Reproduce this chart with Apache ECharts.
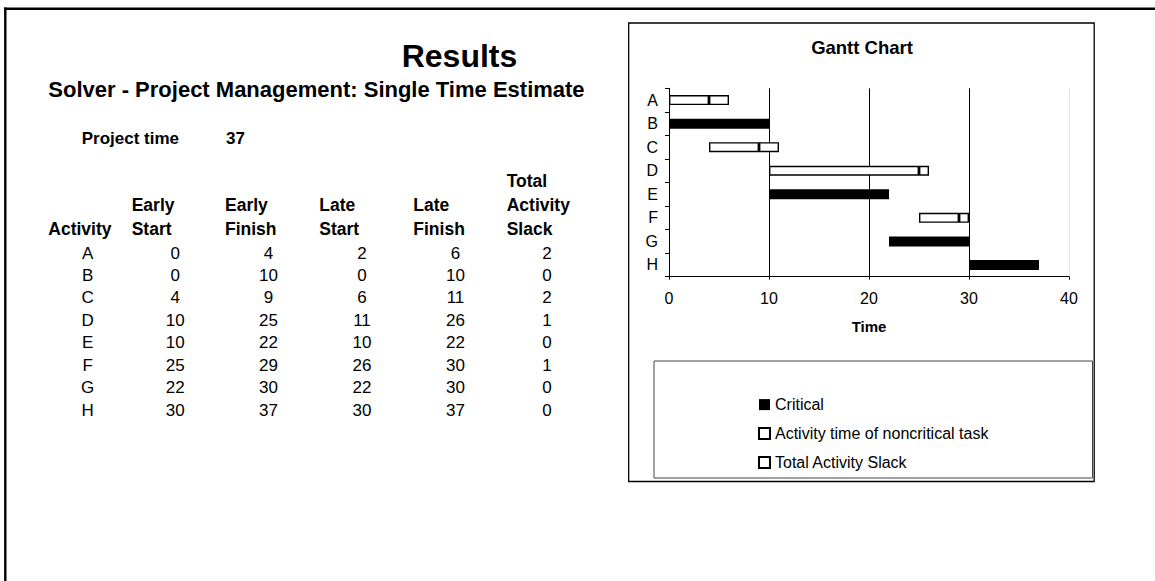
<!DOCTYPE html>
<html>
<head>
<meta charset="utf-8">
<script src="https://cdn.jsdelivr.net/npm/echarts@6/dist/echarts.min.js"></script>
<style>
html,body{margin:0;padding:0;background:#fff;}
#main{width:1155px;height:581px;}
</style>
</head>
<body>
<div id="main"></div>
<script>
// ---- data ----
const activities = ['A', 'B', 'C', 'D', 'E', 'F', 'G', 'H'];
const earlyStart = [0, 0, 4, 10, 10, 25, 22, 30];
const earlyFinish = [4, 10, 9, 25, 22, 29, 30, 37];
const lateStart = [2, 0, 6, 11, 10, 26, 22, 30];
const lateFinish = [6, 10, 11, 26, 22, 30, 30, 37];
const totalSlack = [2, 0, 2, 1, 0, 1, 0, 0];
const projectTime = 37;
const headerRows = [
  ['', '', '', '', '', 'Total'],
  ['', 'Early', 'Early', 'Late', 'Late', 'Activity'],
  ['Activity', 'Start', 'Finish', 'Start', 'Finish', 'Slack']
];
const legendNames = ['Critical', 'Activity time of noncritical task', 'Total Activity Slack'];

// ---- derived series for the Gantt (from the table values) ----
const duration = activities.map((_, i) => earlyFinish[i] - earlyStart[i]);
const criticalData = activities.map((_, i) => totalSlack[i] === 0 ? duration[i] : '-');
const nonCriticalData = activities.map((_, i) => totalSlack[i] > 0 ? duration[i] : '-');
const slackData = activities.map((_, i) => totalSlack[i] > 0 ? totalSlack[i] : '-');

const FF = '"Liberation Sans", Arial, sans-serif';
const chart = echarts.init(document.getElementById('main'), null, { renderer: 'svg' });

// ---- table graphics ----
const graphics = [];
function txt(text, x, y, size, bold, align) {
  graphics.push({
    type: 'text', silent: true,
    style: {
      text: String(text), x: x, y: y, fill: '#000',
      font: (bold ? 'bold ' : '') + size + 'px ' + FF,
      align: align || 'left', verticalAlign: 'middle'
    }
  });
}
// frame lines
graphics.push({ type: 'line', silent: true, shape: { x1: 4, y1: 8.8, x2: 1155, y2: 8.8 }, style: { stroke: '#000', lineWidth: 2.4 } });
graphics.push({ type: 'line', silent: true, shape: { x1: 5.3, y1: 7.6, x2: 5.3, y2: 581 }, style: { stroke: '#000', lineWidth: 2.4 } });
// gantt chart box
graphics.push({ type: 'rect', silent: true, z: -1, shape: { x: 628.7, y: 23, width: 465.5, height: 458.5 }, style: { fill: 'none', stroke: '#000', lineWidth: 1.3 } });
// legend box
graphics.push({ type: 'rect', silent: true, z: -1, shape: { x: 654, y: 361, width: 438.5, height: 117 }, style: { fill: 'none', stroke: '#444', lineWidth: 1 } });

txt('Results', 401.7, 56, 32, true);
txt('Solver - Project Management: Single Time Estimate', 48.3, 89.5, 22, true);
txt('Project time', 81.7, 138, 17, true);
txt(projectTime, 226, 138, 17, true);

const headerX = [48.3, 131.7, 225, 319.3, 413.3, 506.7];
const headerY = [181, 205.3, 228.7];
headerRows.forEach((row, r) => {
  row.forEach((h, c) => { if (h) txt(h, headerX[c], headerY[r], 17.5, true); });
});
const colCenters = [87.7, 175.3, 268.5, 362, 455.5, 547];
const cols = [activities, earlyStart, earlyFinish, lateStart, lateFinish, totalSlack];
activities.forEach((_, i) => {
  const y = 253 + i * 22.45;
  cols.forEach((col, c) => txt(col[i], colCenters[c], y, 17, false, 'center'));
});

const hollow = { color: '#fff', borderColor: '#000', borderWidth: 1.4 };

chart.setOption({
  animation: false,
  backgroundColor: '#fff',
  textStyle: { fontFamily: FF },
  title: {
    text: 'Gantt Chart', left: 862, top: 37, textAlign: 'center', padding: 0,
    textStyle: { fontSize: 18.5, fontWeight: 'bold', color: '#000', fontFamily: FF, lineHeight: 20 }
  },
  legend: {
    data: legendNames, orient: 'vertical', left: 758, top: 396.6, padding: 0,
    itemWidth: 11, itemHeight: 11, itemGap: 13, icon: 'rect',
    textStyle: { fontSize: 16, lineHeight: 16, color: '#000', fontFamily: FF },
    selectedMode: false
  },
  grid: { left: 669, top: 88.3, width: 400, height: 188.4, containLabel: false },
  xAxis: {
    type: 'value', min: 0, max: 40, interval: 10,
    name: 'Time', nameLocation: 'middle', nameGap: 42.5,
    nameTextStyle: { fontSize: 15, fontWeight: 'bold', color: '#000', lineHeight: 15, fontFamily: FF },
    axisLine: { show: true, lineStyle: { color: '#000', width: 1 } },
    axisTick: { show: true, length: 3, lineStyle: { color: '#000' } },
    axisLabel: { fontSize: 16, color: '#000', margin: 14, lineHeight: 16, fontFamily: FF },
    splitLine: { show: true, lineStyle: { color: ['#000', '#000', '#000', '#000', '#e6e6e6'], width: 1 } }
  },
  yAxis: {
    type: 'category', data: activities, inverse: true,
    axisLine: { show: true, lineStyle: { color: '#000', width: 1 } },
    axisTick: { show: true, length: 4, lineStyle: { color: '#000' } },
    axisLabel: { fontSize: 16, color: '#000', margin: 11, fontFamily: FF },
    splitLine: { show: false }
  },
  series: [
    { name: 'base', type: 'bar', stack: 'g', data: earlyStart, barWidth: 10, silent: true,
      itemStyle: { color: 'transparent' }, emphasis: { disabled: true } },
    { name: legendNames[0], type: 'bar', stack: 'g', data: criticalData, barWidth: 10,
      itemStyle: { color: '#000', borderColor: '#000', borderWidth: 0 }, emphasis: { disabled: true } },
    { name: legendNames[1], type: 'bar', stack: 'g', data: nonCriticalData, barWidth: 10,
      itemStyle: hollow, emphasis: { disabled: true } },
    { name: legendNames[2], type: 'bar', stack: 'g', data: slackData, barWidth: 10,
      itemStyle: hollow, emphasis: { disabled: true } }
  ],
  graphic: graphics
});
</script>
</body>
</html>
